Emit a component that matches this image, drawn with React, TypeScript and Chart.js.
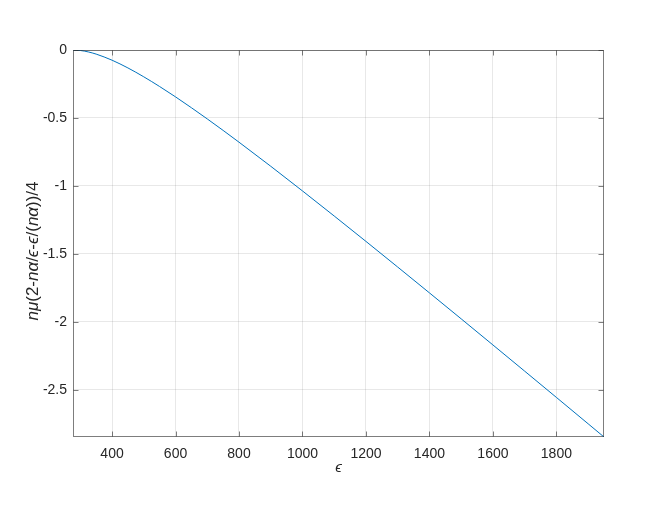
import React, { useEffect, useRef } from "react";
import { Chart, registerables } from "chart.js";

Chart.register(...registerables);

const epsValues = [277, 300, 325, 350, 400, 450, 500, 550, 600, 650, 700, 750, 800, 900, 1000, 1100, 1200, 1300, 1400, 1500, 1600, 1700, 1800, 1900, 1950];
const fValues = [0, -0.0035, -0.0141, -0.0302, -0.075, -0.1319, -0.1972, -0.2687, -0.3447, -0.4244, -0.5068, -0.5914, -0.6779, -0.855, -1.0364, -1.2208, -1.4076, -1.5961, -1.786, -1.977, -2.169, -2.3616, -2.5549, -2.7487, -2.846];
const xTicks = [400, 600, 800, 1000, 1200, 1400, 1600, 1800];
const yTicks = [0, -0.5, -1, -1.5, -2, -2.5];
const xRange = [277, 1950];
const yRange = [-2.846, 0];
const xTitle = "ϵ";
const yTitleParts: [string, boolean][] = [
  ["nμ", true], ["(2-", false], ["nα", true], ["/", false], ["ϵ", true], ["-", false],
  ["ϵ", true], ["/(", false], ["nα", true], ["))/4", false],
];

const FONT = "'Liberation Sans', Arial, Helvetica, sans-serif";

const framePlugin = {
  id: "frame",
  afterDraw(chart: any) {
    const { ctx, chartArea: a, scales } = chart;
    ctx.save();
    ctx.strokeStyle = "#262626";
    ctx.lineWidth = 1;
    const L = Math.round(a.left) + 0.5, R = Math.round(a.right) - 0.5;
    const T = Math.round(a.top) + 0.5, B = Math.round(a.bottom) - 0.5;
    ctx.globalAlpha = 0.6;
    ctx.strokeRect(L, T, R - L, B - T);
    const tl = 5;
    ctx.beginPath();
    for (const v of xTicks) {
      const x = Math.round(scales.x.getPixelForValue(v)) + 0.5;
      ctx.moveTo(x, B); ctx.lineTo(x, B - tl);
      ctx.moveTo(x, T); ctx.lineTo(x, T + tl);
    }
    for (const v of yTicks) {
      const y = Math.round(scales.y.getPixelForValue(v)) + 0.5;
      ctx.moveTo(L, y); ctx.lineTo(L + tl, y);
      ctx.moveTo(R, y); ctx.lineTo(R - tl, y);
    }
    ctx.stroke();
    ctx.globalAlpha = 1;

    // x title
    ctx.fillStyle = "#262626";
    ctx.font = `italic 15px ${FONT}`;
    ctx.textAlign = "center";
    ctx.textBaseline = "middle";
    ctx.fillText(xTitle, (a.left + a.right) / 2, 468);

    // y title with mixed italics
    const cy = 251;
    ctx.translate(33, cy);
    ctx.rotate(-Math.PI / 2);
    let total = 0;
    const widths: number[] = [];
    for (const [t, it] of yTitleParts) {
      ctx.font = `${it ? "italic " : ""}17px ${FONT}`;
      const w = ctx.measureText(t).width;
      widths.push(w);
      total += w;
    }
    let xp = -total / 2;
    ctx.textAlign = "left";
    yTitleParts.forEach(([t, it], i) => {
      ctx.font = `${it ? "italic " : ""}17px ${FONT}`;
      ctx.fillText(t, xp, 0);
      xp += widths[i];
    });
    ctx.restore();
  },
};

export default function App() {
  const ref = useRef<HTMLCanvasElement | null>(null);
  useEffect(() => {
    if (!ref.current) return;
    const chart = new Chart(ref.current, {
      type: "line",
      data: {
        datasets: [
          {
            data: epsValues.map((x, i) => ({ x, y: fValues[i] })),
            borderColor: "#0072BD",
            borderWidth: 1,
            pointRadius: 0,
            cubicInterpolationMode: "monotone",
            fill: false,
          },
        ],
      },
      options: {
        animation: false,
        responsive: false,
        devicePixelRatio: 1,
        layout: { padding: { left: 0, top: 50, right: 50, bottom: 0 } },
        plugins: { legend: { display: false }, tooltip: { enabled: false } },
        scales: {
          x: {
            type: "linear",
            min: xRange[0],
            max: xRange[1],
            afterBuildTicks: (s: any) => { s.ticks = xTicks.map((v) => ({ value: v })); },
            afterFit: (s: any) => { s.height = 68; },
            grid: { color: "rgba(0,0,0,0.09)", drawTicks: false },
            border: { display: false },
            ticks: {
              padding: 9,
              color: "#262626",
              font: { family: FONT, size: 14 },
              callback: (v: any) => String(v),
              maxRotation: 0,
            },
          },
          y: {
            type: "linear",
            min: yRange[0],
            max: yRange[1],
            afterBuildTicks: (s: any) => { s.ticks = yTicks.map((v) => ({ value: v })); },
            afterFit: (s: any) => { s.width = 73; },
            grid: { color: "rgba(0,0,0,0.09)", drawTicks: false },
            border: { display: false },
            ticks: {
              padding: 6,
              color: "#262626",
              font: { family: FONT, size: 14 },
              callback: (v: any) => String(v),
            },
          },
        },
      },
      plugins: [framePlugin],
    } as any);
    return () => chart.destroy();
  }, []);
  return (
    <div style={{ position: "fixed", left: 0, top: 0, width: 654, height: 505, background: "#fff" }}>
      <canvas ref={ref} width={654} height={505} style={{ width: 654, height: 505, display: "block" }} />
    </div>
  );
}
